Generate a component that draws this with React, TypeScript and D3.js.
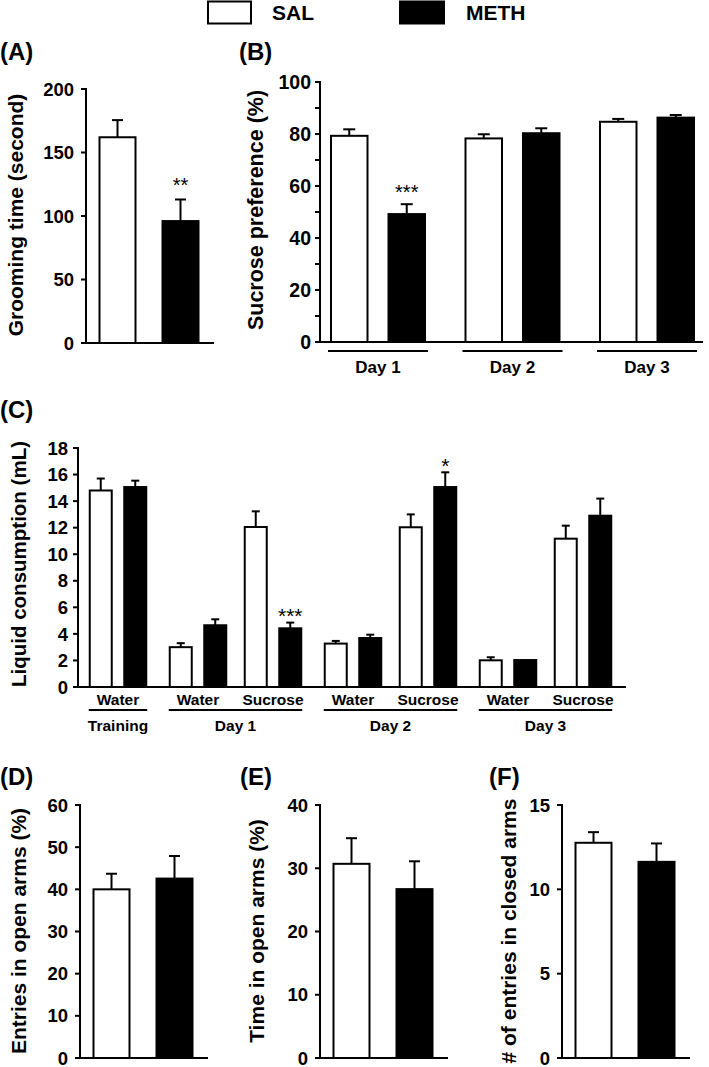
import React from 'react';
import * as d3 from 'd3';

// ---------- data ----------
const groups = ['SAL', 'METH'];

// (A) grooming time
const groomMean = [162, 96];
const groomSem = [13.5, 17];
const groomTicks = [0, 50, 100, 150, 200];
const groomSig = ['', '**'];

// (B) sucrose preference
const prefDays = ['Day 1', 'Day 2', 'Day 3'];
const prefSal = [79.3, 78.3, 84.7];
const prefSalSem = [2.5, 1.6, 1.1];
const prefMeth = [49.2, 80.3, 86.3];
const prefMethSem = [3.8, 1.9, 1.0];
const prefTicks = [0, 20, 40, 60, 80, 100];
const prefMinorTicks = [10, 30, 50, 70, 90];
const prefSig = ['***', '', ''];

// (C) liquid consumption
const consFluid = ['Water', 'Water', 'Sucrose', 'Water', 'Sucrose', 'Water', 'Sucrose'];
const consPhase = ['Training', 'Day 1', 'Day 1', 'Day 2', 'Day 2', 'Day 3', 'Day 3'];
const consSal = [14.8, 3.0, 12.05, 3.27, 12.03, 2.01, 11.17];
const consSalSem = [0.9, 0.3, 1.18, 0.2, 0.97, 0.23, 0.98];
const consMeth = [15.06, 4.65, 4.42, 3.69, 15.06, 2.03, 12.9];
const consMethSem = [0.48, 0.45, 0.43, 0.25, 1.11, 0, 1.29];
const consTicks = [0, 2, 4, 6, 8, 10, 12, 14, 16, 18];
const consSig = ['', '', '***', '', '*', '', ''];

// (D) entries in open arms
const entriesMean = [40.0, 42.55];
const entriesSem = [3.7, 5.35];
const entriesTicks = [0, 10, 20, 30, 40, 50, 60];

// (E) time in open arms
const timeMean = [30.7, 26.7];
const timeSem = [4.05, 4.4];
const timeTicks = [0, 10, 20, 30, 40];

// (F) entries in closed arms
const closedMean = [12.76, 11.63];
const closedSem = [0.63, 1.09];
const closedTicks = [0, 5, 10, 15];

// ---------- style ----------
const FONT = '"Liberation Sans", Arial, Helvetica, sans-serif';
const fills: Record<string, string> = { SAL: '#ffffff', METH: '#000000' };
const SW = 2;

function sigY(errTop: number, gap: number, fs: number) {
  // baseline so that the asterisk's visual centre sits `gap` px above errTop
  return errTop - gap + 0.57 * fs;
}

function YAxis({ x, y, ticks, minor = [], fs, gap }: any) {
  const [r0, r1] = y.range();
  return (
    <g>
      <line x1={x} x2={x} y1={r0} y2={r1} stroke="#000" strokeWidth={SW} strokeLinecap="square" />
      {ticks.map((t: number) => (
        <g key={'t' + t}>
          <line x1={x - 5} x2={x} y1={y(t)} y2={y(t)} stroke="#000" strokeWidth={SW} />
          <text x={x - gap} y={y(t)} dy="0.36em" textAnchor="end" fontSize={fs} fontWeight="bold" fontFamily={FONT}>
            {t}
          </text>
        </g>
      ))}
      {minor.map((t: number) => (
        <line key={'m' + t} x1={x - 5} x2={x} y1={y(t)} y2={y(t)} stroke="#000" strokeWidth={SW} />
      ))}
    </g>
  );
}

function Bar({ cx, w, y, v, sem, group, cap }: any) {
  const y0 = y(0);
  const yv = y(v);
  const ye = y(v + sem);
  return (
    <g>
      {sem > 0 && (
        <g>
          <line x1={cx} x2={cx} y1={yv} y2={ye} stroke="#000" strokeWidth={SW} />
          <line x1={cx - cap / 2} x2={cx + cap / 2} y1={ye} y2={ye} stroke="#000" strokeWidth={SW} />
        </g>
      )}
      <rect x={cx - w / 2 + 1} y={yv} width={w - 2} height={y0 - yv} fill={fills[group]} stroke="#000" strokeWidth={SW} />
    </g>
  );
}

function YLabel({ x, y, text, fs }: any) {
  return (
    <text
      transform={`translate(${x},${y}) rotate(-90)`}
      textAnchor="middle"
      fontSize={fs}
      fontWeight="bold"
      fontFamily={FONT}
    >
      {text}
    </text>
  );
}

function Letter({ x, y, text }: any) {
  return (
    <text x={x} y={y} fontSize={24} fontWeight="bold" fontFamily={FONT}>
      {text}
    </text>
  );
}

function TwoBar({ axisX, yTop, yBottom, max, ticks, means, sems, sig, tickFs, label, labelX, labelY }: any) {
  const y = d3.scaleLinear().domain([0, max]).range([yBottom, yTop]);
  const x = d3.scalePoint<string>().domain(groups).range([axisX + 31.5, axisX + 94.5]);
  const w = 38;
  return (
    <g>
      {groups.map((g, i) => (
        <Bar key={g} cx={x(g)} w={w} y={y} v={means[i]} sem={sems[i]} group={g} cap={11} />
      ))}
      {sig &&
        groups.map((g, i) =>
          sig[i] ? (
            <text key={'s' + g} x={x(g)} y={sigY(y(means[i] + sems[i]), 19, 20)} textAnchor="middle" fontSize={20} fontFamily={FONT}>
              {sig[i]}
            </text>
          ) : null
        )}
      <YAxis x={axisX} y={y} ticks={ticks} fs={tickFs} gap={12} />
      <line x1={axisX} x2={axisX + 127} y1={yBottom} y2={yBottom} stroke="#000" strokeWidth={SW} strokeLinecap="square" />
      <YLabel x={labelX} y={labelY} text={label} fs={21} />
    </g>
  );
}

function PanelB() {
  const y = d3.scaleLinear().domain([0, 100]).range([342, 82]);
  const x = d3.scalePoint<string>().domain(prefDays).range([378, 647]);
  const off = 28.75;
  const w = 38.5;
  return (
    <g>
      {prefDays.map((d, i) => {
        const cx = x(d) as number;
        return (
          <g key={d}>
            <Bar cx={cx - off} w={w} y={y} v={prefSal[i]} sem={prefSalSem[i]} group="SAL" cap={12} />
            <Bar cx={cx + off} w={w} y={y} v={prefMeth[i]} sem={prefMethSem[i]} group="METH" cap={12} />
            {prefSig[i] && (
              <text x={cx + off} y={sigY(y(prefMeth[i] + prefMethSem[i]), 17, 20)} textAnchor="middle" fontSize={20} fontFamily={FONT}>
                {prefSig[i]}
              </text>
            )}
            <line x1={cx - off - w / 2 - 2} x2={cx + off + w / 2 + 2} y1={351} y2={351} stroke="#000" strokeWidth={SW} />
            <text x={cx} y={373} textAnchor="middle" fontSize={17} fontWeight="bold" fontFamily={FONT}>
              {d}
            </text>
          </g>
        );
      })}
      <YAxis x={320} y={y} ticks={prefTicks} minor={prefMinorTicks} fs={19.5} gap={9} />
      <line x1={320} x2={702} y1={342} y2={342} stroke="#000" strokeWidth={SW} strokeLinecap="square" />
      <YLabel x={263} y={210} text="Sucrose preference (%)" fs={21.5} />
    </g>
  );
}

function PanelC() {
  const y = d3.scaleLinear().domain([0, 18]).range([687, 448]);
  const phases = Array.from(new Set(consPhase));
  // slot positions: 75 px between pairs, plus an extra 5 px between phases
  const slot = consPhase.map((p, i) => i * 75 + phases.indexOf(p) * 5);
  const x = d3.scaleLinear().domain([0, slot[slot.length - 1]]).range([118, 583]);
  const off = 17.25;
  const w = 24;
  return (
    <g>
      {consFluid.map((f, i) => {
        const cx = x(slot[i]);
        return (
          <g key={i}>
            <Bar cx={cx - off} w={w} y={y} v={consSal[i]} sem={consSalSem[i]} group="SAL" cap={8} />
            <Bar cx={cx + off} w={w} y={y} v={consMeth[i]} sem={consMethSem[i]} group="METH" cap={8} />
            {consSig[i] && (
              <text x={cx + off} y={sigY(y(consMeth[i] + consMethSem[i]), 11.5, 21)} textAnchor="middle" fontSize={21} fontFamily={FONT}>
                {consSig[i]}
              </text>
            )}
            <text x={cx} y={705} textAnchor="middle" fontSize={15.5} fontWeight="bold" fontFamily={FONT}>
              {f}
            </text>
          </g>
        );
      })}
      {phases.map((p) => {
        const idx = consPhase.map((q, i) => (q === p ? i : -1)).filter((i) => i >= 0);
        const left = x(slot[idx[0]]) - off - w / 2;
        const right = x(slot[idx[idx.length - 1]]) + off + w / 2;
        return (
          <g key={p}>
            <line x1={left} x2={right} y1={710} y2={710} stroke="#000" strokeWidth={SW} />
            <text x={(left + right) / 2} y={731} textAnchor="middle" fontSize={15.5} fontWeight="bold" fontFamily={FONT}>
              {p}
            </text>
          </g>
        );
      })}
      <YAxis x={78} y={y} ticks={consTicks} fs={18.5} gap={10} />
      <line x1={78} x2={625} y1={687} y2={687} stroke="#000" strokeWidth={SW} strokeLinecap="square" />
      <YLabel x={25.5} y={564} text="Liquid consumption (mL)" fs={20.5} />
    </g>
  );
}

function Legend() {
  return (
    <g fontFamily={FONT} fontWeight="bold" fontSize={21}>
      <rect x={208} y={1.5} width={43} height={22} fill={fills.SAL} stroke="#000" strokeWidth={SW} />
      <text x={272} y={19.5}>SAL</text>
      <rect x={400} y={1.5} width={44} height={22} fill={fills.METH} stroke="#000" strokeWidth={SW} />
      <text x={466} y={19.5}>METH</text>
    </g>
  );
}

export default function App() {
  return (
    <svg
      width={709}
      height={1067}
      viewBox="0 0 709 1067"
      style={{ position: 'absolute', left: 0, top: 0, background: '#fff', display: 'block' }}
    >
      <rect x={0} y={0} width={709} height={1067} fill="#fff" />
      <Legend />
      <Letter x={0} y={60} text="(A)" />
      <Letter x={239} y={60} text="(B)" />
      <Letter x={0} y={418} text="(C)" />
      <Letter x={0} y={785} text="(D)" />
      <Letter x={240} y={785} text="(E)" />
      <Letter x={489} y={785} text="(F)" />

      <TwoBar
        axisX={86} yTop={89} yBottom={343} max={200} ticks={groomTicks}
        means={groomMean} sems={groomSem} sig={groomSig} tickFs={18.5}
        label="Grooming time (second)" labelX={23} labelY={215}
      />
      <PanelB />
      <PanelC />
      <TwoBar
        axisX={80} yTop={805} yBottom={1058} max={60} ticks={entriesTicks}
        means={entriesMean} sems={entriesSem} tickFs={18.5}
        label="Entries in open arms (%)" labelX={26} labelY={931}
      />
      <TwoBar
        axisX={320} yTop={805} yBottom={1058} max={40} ticks={timeTicks}
        means={timeMean} sems={timeSem} tickFs={18.5}
        label="Time in open arms (%)" labelX={264} labelY={931}
      />
      <TwoBar
        axisX={562} yTop={805} yBottom={1058} max={15} ticks={closedTicks}
        means={closedMean} sems={closedSem} tickFs={18.5}
        label="# of entries in closed arms" labelX={516} labelY={931}
      />
    </svg>
  );
}
